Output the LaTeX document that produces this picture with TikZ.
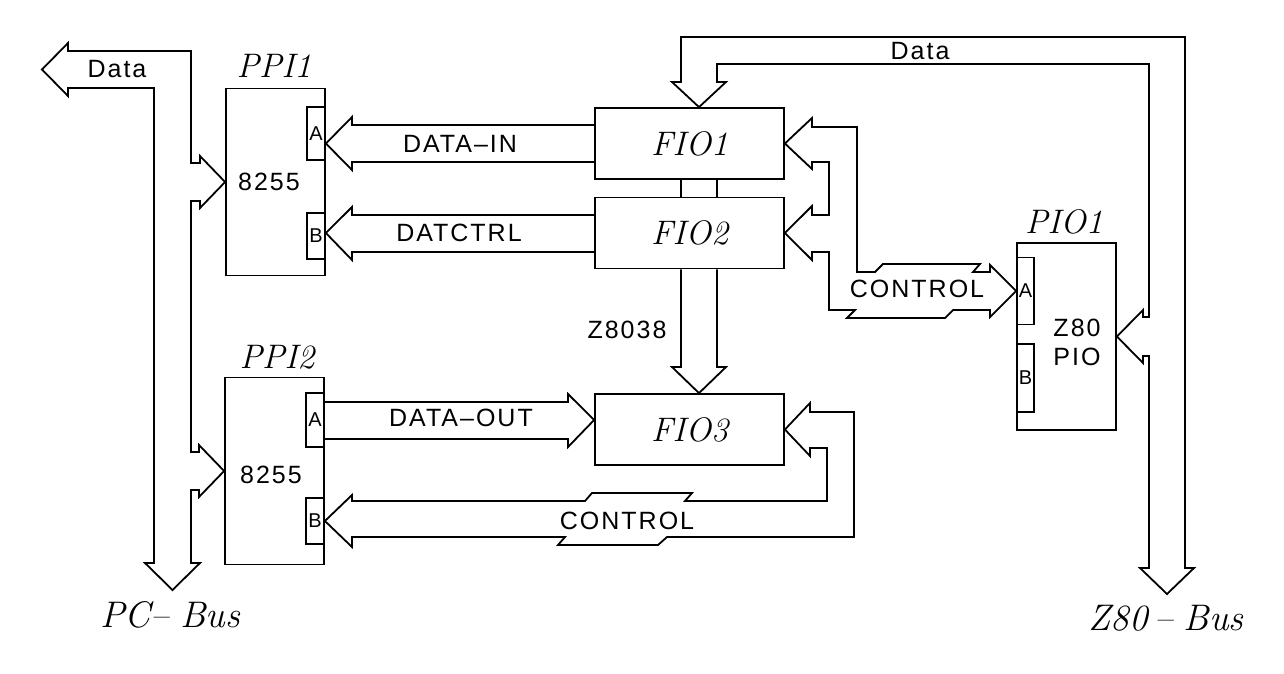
\documentclass[tikz,border=0pt]{standalone}
\usepackage{fontspec}
\newfontfamily\plotfont[LetterSpace=8]{Liberation Sans}
\usetikzlibrary{positioning}
\newcommand{\plotsf}{\plotfont\fontsize{25}{29}\selectfont}
\newcommand{\plotsm}{\plotfont\fontsize{20}{22}\selectfont}
\newcommand{\chipit}{\itshape\fontsize{34}{36}\selectfont}
\newcommand{\busit}{\itshape\fontsize{37}{40}\selectfont}

\begin{document}
\begin{tikzpicture}[x=1pt, y=-1pt, line width=1.8pt, line join=miter,
  chip/.style={draw, minimum width=99pt, minimum height=187pt, inner sep=0pt},
  port/.style={draw, minimum width=18pt, inner sep=0pt, font=\plotsm},
  fio/.style={draw, minimum width=189pt, minimum height=71pt, inner sep=0pt, font=\chipit},
  title/.style={font=\chipit, inner sep=0pt},
  busname/.style={font=\busit, inner sep=0pt},
  lbl/.style={font=\plotsf, inner sep=0pt, align=center}]
  \useasboundingbox (0,0) rectangle (1284,673);
  \fill[white] (0,0) rectangle (1284,673);

  % chips on the PC side
  \node[chip] (ppi1) at (275.5,182) {};
  \node[port, minimum height=53pt] (ppi1a) at (316,133.5) {A};
  \node[port, minimum height=46pt] (ppi1b) at (316,236) {B};
  \node[lbl] (ppi1t) at (269,182) {8255};
  \node[title] (ppi1n) at (274,66) {PPI1};

  \node[chip] (ppi2) at (274.5,471) {};
  \node[port, minimum height=54pt] (ppi2a) at (315,420) {A};
  \node[port, minimum height=46pt] (ppi2b) at (315,521) {B};
  \node[lbl] (ppi2t) at (271,475) {8255};
  \node[title] (ppi2n) at (277,357) {PPI2};

  % FIO chain
  \node[fio] (fio1) at (689.5,143.5) {FIO1};
  \node[fio] (fio2) at (689.5,233) {FIO2};
  \node[fio] (fio3) at (689.5,429.5) {FIO3};

  % chip on the Z80 side
  \node[chip] (pio1) at (1066.5,336.5) {};
  \node[port, minimum width=17pt, minimum height=67pt] (pio1a) at (1025.5,291) {A};
  \node[port, minimum width=17pt, minimum height=68pt] (pio1b) at (1025.5,378) {B};
  \node[lbl] (pio1t) at (1077,342) {Z80\\PIO};
  \node[title] (pio1n) at (1064,222) {PIO1};

  % PC bus
  \draw (154,88) -- (154,563) -- (145,563) -- (172.5,590) -- (200,563) -- (191,563)
    -- (191,490) -- (199,490) -- (199,497) -- (ppi2.west) -- (199,445) -- (199,452)
    -- (191,452) -- (191,201) -- (200,201) -- (200,208) -- (ppi1.west) -- (200,156)
    -- (200,163) -- (191,163) -- (191,51) -- (68,51) -- (68,43) -- (42,69.5)
    -- (68,96) -- (68,88) -- cycle;

  % Z80 bus
  \draw (1185,568) -- (1185,37) -- (681,37) -- (681,82) -- (672,82)
    -- ([xshift=9.5pt]fio1.north) -- (726,82) -- (717,82) -- (717,64) -- (1149,64)
    -- (1149,317) -- (1143,317) -- (1143,310) -- (pio1.east) -- (1143,363)
    -- (1143,356) -- (1149,356) -- (1149,568) -- (1140,568) -- (1167,594)
    -- (1194,568) -- cycle;

  % FIO links
  \draw ([xshift=-8.5pt]fio1.south) -- ([xshift=-8.5pt]fio2.north);
  \draw ([xshift=27.5pt]fio1.south) -- ([xshift=27.5pt]fio2.north);
  \draw ([xshift=-8.5pt]fio2.south) -- (681,367) -- (672,367)
    -- ([xshift=9.5pt]fio3.north) -- (726,367) -- (717,367) -- ([xshift=27.5pt]fio2.south);

  % data paths
  \draw (595,125) -- (352,125) -- (352,117) -- (ppi1a.east |- fio1.west)
    -- (352,170) -- (352,162) -- (595,162);
  \draw (595,215) -- (352,215) -- (352,207) -- (ppi1b.east |- fio2.west)
    -- (352,260) -- (352,252) -- (595,252);
  \draw (324,402) -- (568,402) -- (568,394) -- (fio3.west |- ppi2a.east)
    -- (568,447) -- (568,439) -- (324,439);

  % control paths
  \draw (fio3.east) -- (810,403) -- (810,412) -- (854,412) -- (854,537) -- (667,537)
    -- (658,545) -- (558,545) -- (565,537) -- (352,537) -- (352,547) -- (ppi2b.east)
    -- (352,495) -- (352,501) -- (585,501) -- (592,493) -- (692,493) -- (685,501)
    -- (827,501) -- (827,448) -- (810,448) -- (810,456) -- cycle;
  \draw (fio1.east) -- (812,118) -- (812,127) -- (857,127) -- (857,272) -- (875,272)
    -- (883,264) -- (980,264) -- (973,272) -- (990,272) -- (990,265) -- (pio1a.west)
    -- (990,317) -- (990,310) -- (953,310) -- (945,318) -- (847,318) -- (855,310)
    -- (829,310) -- (829,252) -- (812,252) -- (812,260) -- (fio2.east) -- (812,206)
    -- (812,215) -- (829,215) -- (829,162) -- (812,162) -- (812,169) -- cycle;

  % labels
  \node[lbl] (datal) at (117,69) {Data};
  \node[lbl] (datar) at (920,51) {Data};
  \node[lbl] (din) at (460,144) {DATA–IN};
  \node[lbl] (dctl) at (459,233) {DATCTRL};
  \node[lbl] (dout) at (461,418) {DATA–OUT};
  \node[lbl] (z8038) at (627,330) {Z8038};
  \node[lbl] (ctlr) at (917,289) {CONTROL};
  \node[lbl] (ctlb) at (627,521) {CONTROL};
  \node[busname] (pcbus) at (170,615) {PC–\hspace{.3em}Bus};
  \node[busname] (z80bus) at (1166,618) {Z80\,–\hspace{.3em}Bus};
\end{tikzpicture}
\end{document}
